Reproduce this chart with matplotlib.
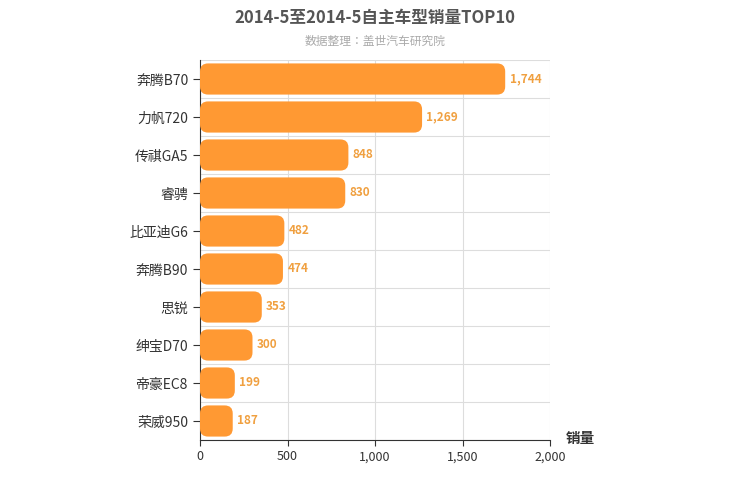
import matplotlib
matplotlib.use("Agg")
import matplotlib.pyplot as plt
from matplotlib.patches import FancyBboxPatch
from matplotlib import font_manager as fm

names = {f.name for f in fm.fontManager.ttflist}
cjk = [n for n in ["Noto Sans CJK SC", "Noto Sans CJK JP", "Noto Sans CJK TC", "Noto Sans CJK KR"] if n in names]
if not cjk:
    cjk = [f.name for f in fm.fontManager.ttflist if "CJK" in f.name][:1]
plt.rcParams['font.family'] = 'sans-serif'
plt.rcParams['font.sans-serif'] = cjk + ['DejaVu Sans']

categories = ["奔腾B70", "力帆720", "传祺GA5", "睿骋", "比亚迪G6", "奔腾B90", "思锐", "绅宝D70", "帝豪EC8", "荣威950"]
values = [1744, 1269, 848, 830, 482, 474, 353, 300, 199, 187]
xticks = [0, 500, 1000, 1500, 2000]
xticklabels = ["0", "500", "1,000", "1,500", "2,000"]

color = "#FF9933"
fig = plt.figure(figsize=(7.5, 5), dpi=100)
ax = fig.add_axes([200/750, 60/500, 350/750, 380/500])
n = len(categories)
h = 0.82
r = 46
for i, v in enumerate(values):
    y = n - 1 - i
    p = FancyBboxPatch((0, y - h/2), v, h, boxstyle=f"round,pad=0,rounding_size={r}",
                       mutation_aspect=0.21/r, fc=color, ec="none", zorder=3)
    ax.add_patch(p)
    ax.text(v + 25, y, f"{v:,}", va="center", ha="left", color="#F0A040",
            fontsize=8.5, fontweight="bold", zorder=4)
ax.set_xlim(0, 2000)
ax.set_ylim(-0.5, n - 0.5)
ax.set_yticks(range(n))
ax.set_yticklabels(categories[::-1], fontsize=10, color="#333333")
ax.set_xticks(xticks)
ax.set_xticklabels(xticklabels, fontsize=9, color="#333333")
ax.grid(True, axis="x", color="#dddddd", zorder=0)
for y in [i + 0.5 for i in range(-1, n)]:
    ax.axhline(y, color="#dddddd", lw=0.8, zorder=0)
for s in ["top", "right"]:
    ax.spines[s].set_visible(False)
ax.spines["left"].set_color("#333333")
ax.spines["bottom"].set_color("#333333")
ax.tick_params(axis="y", length=5, color="#333333")
ax.tick_params(axis="x", length=4, color="#333333")
fig.text(0.5, 0.965, "2014-5至2014-5自主车型销量TOP10", ha="center", va="center",
         fontsize=12, fontweight="bold", color="#555555")
fig.text(0.5, 0.918, "数据整理：盖世汽车研究院", ha="center", va="center",
         fontsize=8.5, color="#aaaaaa")
fig.text(580/750, 1 - 438/500, "销量", ha="center", va="center", fontsize=10.5,
         fontweight="bold", color="#333333")
fig.savefig("out.png", dpi=100)
